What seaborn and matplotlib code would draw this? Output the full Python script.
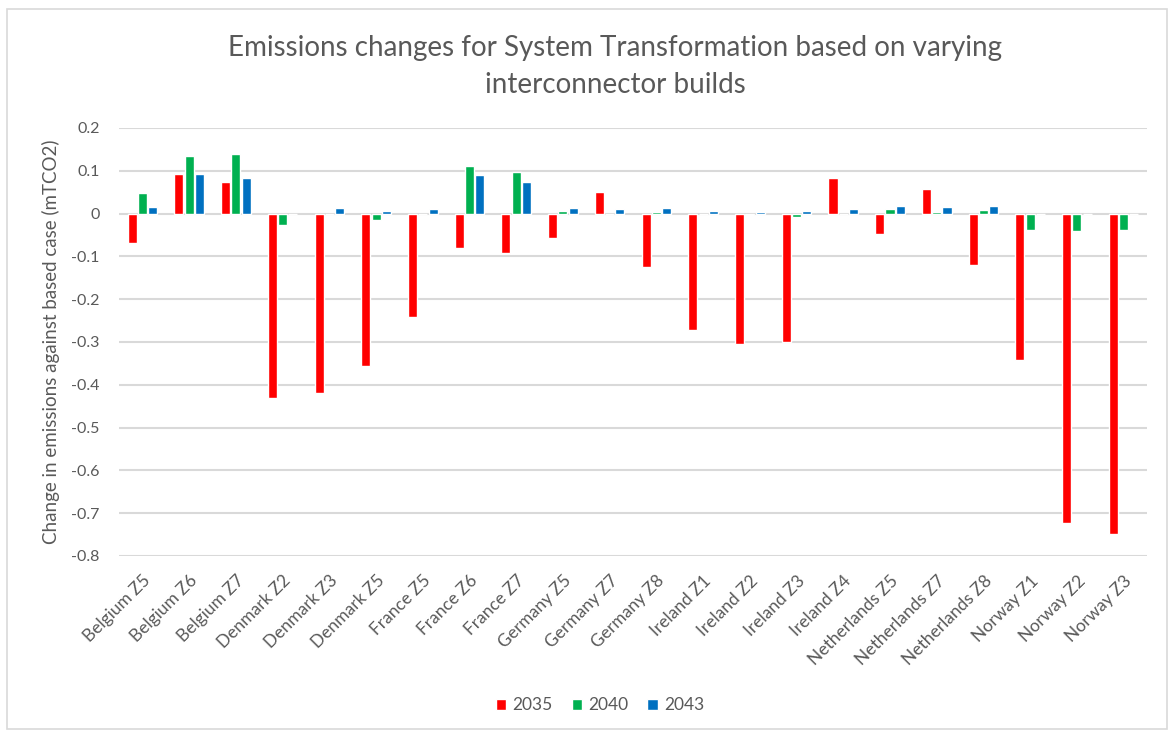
import pandas as pd
import matplotlib
matplotlib.use("Agg")
import matplotlib.pyplot as plt
from matplotlib.patches import Rectangle
import seaborn as sns

# values
zones = ["Belgium Z5", "Belgium Z6", "Belgium Z7", "Denmark Z2", "Denmark Z3",
         "Denmark Z5", "France Z5", "France Z6", "France Z7", "Germany Z5",
         "Germany Z7", "Germany Z8", "Ireland Z1", "Ireland Z2", "Ireland Z3",
         "Ireland Z4", "Netherlands Z5", "Netherlands Z7", "Netherlands Z8",
         "Norway Z1", "Norway Z2", "Norway Z3"]
years = ["2035", "2040", "2043"]
vals_2035 = [-0.069, 0.092, 0.073, -0.430, -0.420, -0.355, -0.241, -0.080, -0.092, -0.058,
             0.050, -0.124, -0.273, -0.304, -0.299, 0.082, -0.048, 0.057, -0.119,
             -0.343, -0.722, -0.748]
vals_2040 = [0.048, 0.134, 0.139, -0.026, 0.0, -0.016, 0.0, 0.111, 0.097, 0.006,
             0.0, 0.003, 0.0, -0.004, -0.008, 0.0, 0.011, 0.003, 0.008,
             -0.038, -0.041, -0.038]
vals_2043 = [0.016, 0.092, 0.082, 0.0, 0.013, 0.006, 0.011, 0.090, 0.073, 0.013,
             0.011, 0.013, 0.006, 0.003, 0.006, 0.011, 0.018, 0.015, 0.018,
             0.0, 0.0, 0.0]
colors = ["#FF0000", "#00B050", "#0070C0"]

df = pd.DataFrame({
    "zone": zones * 3,
    "year": [y for y in years for _ in zones],
    "value": vals_2035 + vals_2040 + vals_2043,
})

sns.set_style("white")
plt.rcParams["font.family"] = ["Lato", "DejaVu Sans"]
grey = "#595959"

fig = plt.figure(figsize=(11.74, 7.33), dpi=100)
ax = fig.add_axes([0.1014, 0.2415, 0.8756, 0.5839])

sns.barplot(data=df, x="zone", y="value", hue="year", palette=colors,
            saturation=1, width=0.66, gap=0.12, errorbar=None, ax=ax, zorder=3)

ax.set_ylim(-0.8, 0.2)
ax.set_xlim(-0.5, len(zones) - 0.5)
ax.set_yticks([0.2, 0.1, 0, -0.1, -0.2, -0.3, -0.4, -0.5, -0.6, -0.7, -0.8])
ax.set_yticklabels(["0.2", "0.1", "0", "-0.1", "-0.2", "-0.3", "-0.4", "-0.5",
                    "-0.6", "-0.7", "-0.8"])
ax.yaxis.grid(True, color="#D9D9D9", linewidth=1.5, zorder=0)
ax.xaxis.grid(False)
for s in ax.spines.values():
    s.set_visible(False)

ax.tick_params(axis="y", length=0, pad=14, labelsize=11.5, labelcolor=grey)
ax.tick_params(axis="x", length=0, pad=12, labelsize=12.5, labelcolor=grey)
plt.setp(ax.get_xticklabels(), rotation=45, ha="right", rotation_mode="anchor")

ax.set_xlabel("")
ax.set_ylabel("Change in emissions against based case (mTCO2)", fontsize=13.5,
              color=grey, labelpad=8)

handles, labels = ax.get_legend_handles_labels()
ax.legend_.remove()
fig.legend(handles, labels, loc="center", bbox_to_anchor=(0.511, 0.038), ncol=3,
           frameon=False, fontsize=12.5, labelcolor=grey, handlelength=0.6,
           handleheight=0.6, handletextpad=0.35, columnspacing=1.1)

fig.text(0.524, 0.909, "Emissions changes for System Transformation based on varying\ninterconnector builds",
         ha="center", va="center", fontsize=20, color=grey, linespacing=1.5)

fig.patches.append(Rectangle((0.006, 0.006), 0.988, 0.982, transform=fig.transFigure,
                             fill=False, edgecolor="#D9D9D9", linewidth=1.2))

fig.savefig("out.png", dpi=100)
